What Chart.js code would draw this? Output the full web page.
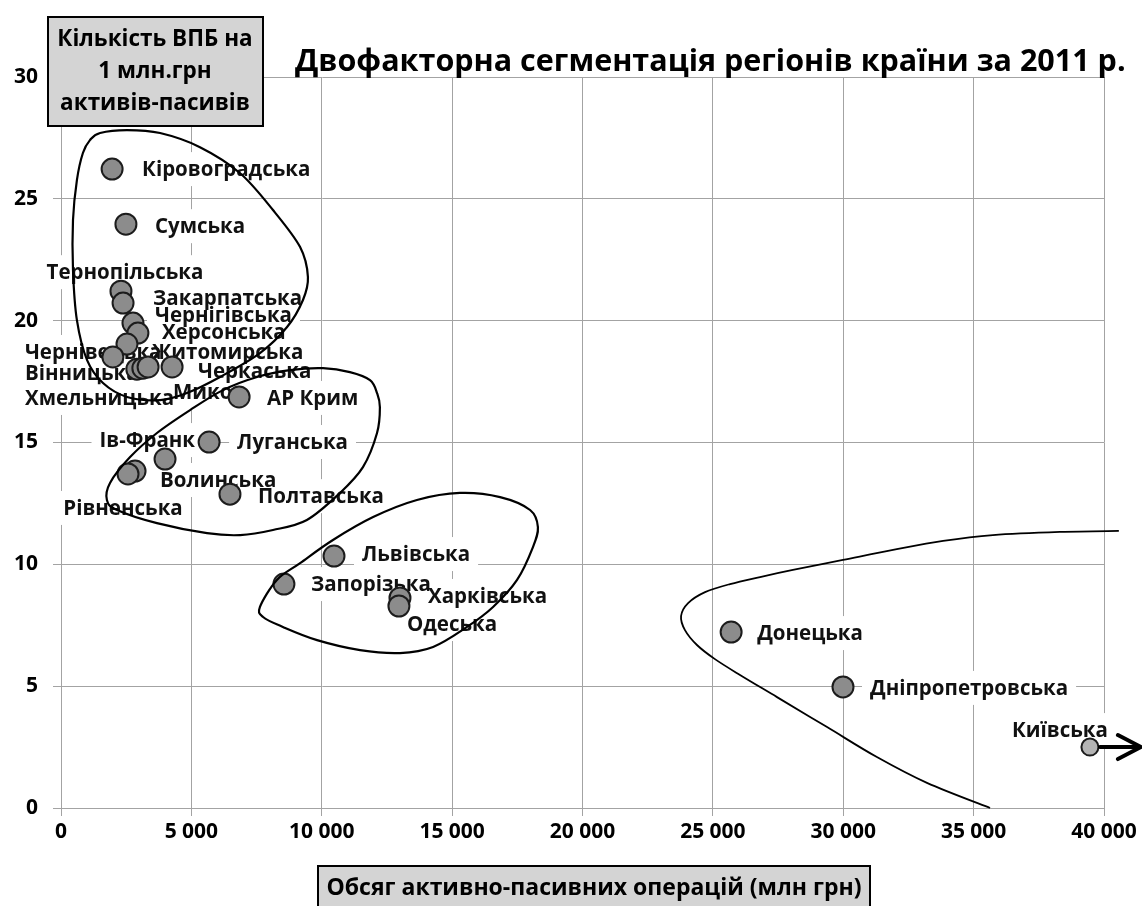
<!DOCTYPE html>
<html lang="uk">
<head>
<meta charset="utf-8">
<title>Двофакторна сегментація регіонів країни за 2011 р.</title>
<script src="https://cdn.jsdelivr.net/npm/chart.js@4.4.1/dist/chart.umd.min.js"></script>
<style>
    html, body { margin: 0; padding: 0; background: #fff; }
    #wrap { width: 1142px; height: 906px; }
</style>
</head>
<body>
<div id="wrap"><canvas id="grafik" width="1142" height="906"></canvas></div>
<script>
// Регіони (підписи як на діаграмі)
const regiony = [
    'Кіровоградська', 'Сумська', 'Тернопільська', 'Закарпатська', 'Чернігівська',
    'Херсонська', 'Житомирська', 'Чернівецька', 'Вінницька', 'Микол',
    'Хмельницька', 'Черкаська', 'АР Крим', 'Луганська', 'Ів-Франк',
    'Волинська', 'Рівненська', 'Полтавська', 'Львівська', 'Запорізька',
    'Харківська', 'Одеська', 'Донецька', 'Дніпропетровська', 'Київська'
];

// Обсяг активно-пасивних операцій, млн грн
const obsyag = [
    1960, 2490, 2300, 2380, 2760,
    2950, 2530, 1990, 2910, 3140,
    3340, 4260, 6830, 5680, 3990,
    2840, 2570, 6480, 10470, 8550,
    13000, 12960, 25700, 29990, 39460
];

// Кількість ВПБ на 1 млн грн активів-пасивів
const kilkistVpb = [
    26.22, 23.96, 21.21, 20.72, 19.90,
    19.49, 19.04, 18.51, 18.01, 18.05,
    18.10, 18.10, 16.87, 15.02, 14.32,
    13.83, 13.71, 12.88, 10.34, 9.19,
    8.62, 8.29, 7.22, 4.97, 2.50
];

const xTicks = [0, 5000, 10000, 15000, 20000, 25000, 30000, 35000, 40000];
const xTickLabels = ['0', '5 000', '10 000', '15 000', '20 000', '25 000', '30 000', '35 000', '40 000'];
const yTicks = [0, 5, 10, 15, 20, 25, 30];

// Контури сегментів (у значеннях осей)
const kontur1 = [[1500, 27.70], [2530, 27.82], [3800, 27.70], [5330, 27.12], [6860, 26.06], [8130, 24.54],
    [9170, 23.02], [9470, 21.79], [9280, 20.85], [8670, 19.74], [7630, 18.67], [6100, 17.69],
    [4830, 17.03], [3800, 16.74], [2530, 16.87], [1610, 17.44], [1000, 18.38], [610, 20.02],
    [460, 22.08], [460, 24.13], [610, 25.77], [840, 26.88], [1110, 27.41]];
const kontur2 = [[12120, 17.03], [11850, 17.56], [11080, 17.89], [10050, 18.05], [8780, 17.97], [7520, 17.69],
    [6210, 17.15], [4950, 16.33], [3680, 15.39], [2650, 14.40], [1880, 13.34], [1760, 12.64],
    [2150, 12.23], [3680, 11.69], [5600, 11.28], [6870, 11.20], [8130, 11.41], [9430, 11.82],
    [10700, 12.93], [11580, 13.99], [12120, 15.39], [12230, 16.45]];
const kontur3 = [[7630, 8.25], [8280, 9.36], [9170, 10.05], [10430, 11.00], [11970, 11.94], [13650, 12.64],
    [15300, 12.93], [16840, 12.76], [17990, 12.23], [18290, 11.53], [18100, 10.71], [17490, 9.36],
    [16570, 8.25], [15570, 7.43], [14270, 6.61], [13000, 6.36], [11470, 6.48], [9820, 6.89],
    [8510, 7.43], [7750, 7.84]];
const kontur4 = [[40570, 11.37], [38310, 11.33], [35740, 11.20], [33830, 10.96], [31910, 10.59], [29990, 10.18],
    [28070, 9.77], [26810, 9.48], [25660, 9.19], [24700, 8.86], [24050, 8.41], [23780, 7.88],
    [23930, 7.30], [24390, 6.69], [25080, 6.11], [26040, 5.46], [27460, 4.55], [29380, 3.32],
    [31290, 2.09], [33210, 1.03], [35630, 0]];

// Розміщення підписів відносно точки (px) - тільки для верстки
const pidpysDx = [30, 29, 4, 30, 22, 24, 25, -88, -112, 30, -123, 26, 28, 28, 30, 25, -5, 28, 28, 27, 28, 8, 26, 27, 18];
const pidpysDy = [0, 2, -19, -5, -8, -1, 8, -5, 4, 24, 31, 4, 1, 0, -19, 9, 34, 2, -2, 0, -2, 18, 1, 1, -17];
const pidpysAlign = ['left', 'left', 'center', 'left', 'left', 'left', 'left', 'left', 'left', 'left',
    'left', 'left', 'left', 'left', 'right', 'left', 'center', 'left', 'left', 'left',
    'left', 'left', 'left', 'left', 'right'];

const SHRYFT = "'Open Sans', 'Noto Sans', sans-serif";
const kyivIdx = regiony.indexOf('Київська');

function smoothPath(ctx, pts, closed) {
    const n = pts.length;
    ctx.beginPath();
    ctx.moveTo(pts[0].x, pts[0].y);
    const last = closed ? n : n - 1;
    for (let i = 0; i < last; i++) {
        const p0 = pts[closed ? (i - 1 + n) % n : Math.max(i - 1, 0)];
        const p1 = pts[i];
        const p2 = pts[(i + 1) % n];
        const p3 = pts[closed ? (i + 2) % n : Math.min(i + 2, n - 1)];
        ctx.bezierCurveTo(
            p1.x + (p2.x - p0.x) / 6, p1.y + (p2.y - p0.y) / 6,
            p2.x - (p3.x - p1.x) / 6, p2.y - (p3.y - p1.y) / 6,
            p2.x, p2.y
        );
    }
    if (closed) ctx.closePath();
    ctx.stroke();
}

// Підписи точок (під точками)
const pidpysyPlugin = {
    id: 'pidpysy',
    beforeDatasetsDraw(chart) {
        const ctx = chart.ctx;
        const sx = chart.scales.x, sy = chart.scales.y;
        ctx.save();
        ctx.font = 'bold 20.5px ' + SHRYFT;
        ctx.textBaseline = 'middle';
        const boxes = regiony.map((name, i) => {
            const px = sx.getPixelForValue(obsyag[i]) + pidpysDx[i];
            const py = sy.getPixelForValue(kilkistVpb[i]) + pidpysDy[i];
            const w = ctx.measureText(name).width;
            let left = px;
            if (pidpysAlign[i] === 'center') left = px - w / 2;
            if (pidpysAlign[i] === 'right') left = px - w;
            return { name, left, py, w };
        });
        ctx.fillStyle = '#ffffff';
        boxes.forEach(b => ctx.fillRect(b.left - 8, b.py - 17, b.w + 16, 34));
        ctx.fillStyle = '#111111';
        ctx.textAlign = 'left';
        boxes.forEach(b => ctx.fillText(b.name, b.left, b.py + 1));
        ctx.restore();
    }
};

// Контури сегментів, стрілка, заголовки
const oformlennyaPlugin = {
    id: 'oformlennya',
    afterDatasetsDraw(chart) {
        const ctx = chart.ctx;
        const sx = chart.scales.x, sy = chart.scales.y;
        const toPx = arr => arr.map(p => ({ x: sx.getPixelForValue(p[0]), y: sy.getPixelForValue(p[1]) }));
        ctx.save();
        ctx.strokeStyle = '#000';
        ctx.lineWidth = 2.2;
        smoothPath(ctx, toPx(kontur1), true);
        smoothPath(ctx, toPx(kontur2), true);
        smoothPath(ctx, toPx(kontur3), true);
        ctx.lineWidth = 1.8;
        smoothPath(ctx, toPx(kontur4), false);

        // стрілка від Київської
        const kx = sx.getPixelForValue(obsyag[kyivIdx]);
        const ky = sy.getPixelForValue(kilkistVpb[kyivIdx]);
        ctx.lineWidth = 4;
        ctx.lineCap = 'round';
        ctx.lineJoin = 'round';
        ctx.beginPath();
        ctx.moveTo(kx + 10, ky);
        ctx.lineTo(kx + 50, ky);
        ctx.moveTo(kx + 28, ky - 12);
        ctx.lineTo(kx + 51, ky);
        ctx.lineTo(kx + 28, ky + 12);
        ctx.stroke();
        ctx.restore();
    },
    afterDraw(chart) {
        const ctx = chart.ctx;
        ctx.save();
        ctx.fillStyle = '#000';
        ctx.textBaseline = 'middle';
        ctx.font = 'bold 30.5px ' + SHRYFT;
        ctx.textAlign = 'left';
        ctx.fillText('Двофакторна сегментація регіонів країни за 2011 р.', 295, 62);

        // назва осі Y
        ctx.fillStyle = '#d4d4d4';
        ctx.fillRect(48, 17, 215, 109);
        ctx.strokeStyle = '#000';
        ctx.lineWidth = 2;
        ctx.strokeRect(48, 17, 215, 109);
        ctx.fillStyle = '#000';
        ctx.textAlign = 'center';
        ctx.font = 'bold 22.5px ' + SHRYFT;
        ctx.fillText('Кількість ВПБ на', 155, 40);
        ctx.fillText('1 млн.грн', 155, 72);
        ctx.fillText('активів-пасивів', 155, 104);

        // назва осі X
        ctx.fillStyle = '#d4d4d4';
        ctx.fillRect(318, 866, 552, 50);
        ctx.strokeRect(318, 866, 552, 50);
        ctx.fillStyle = '#000';
        ctx.font = 'bold 23px ' + SHRYFT;
        ctx.fillText('Обсяг активно-пасивних операцій (млн грн)', 594, 888);
        ctx.restore();
    }
};

const gridStyle = {
    color: '#a3a3a3',
    lineWidth: 1,
    tickLength: 8
};

new Chart(document.getElementById('grafik'), {
    type: 'scatter',
    data: {
        datasets: [{
            label: 'Регіони',
            data: regiony.map((name, i) => ({ x: obsyag[i], y: kilkistVpb[i], name })),
            pointRadius: ctx => ctx.dataIndex === kyivIdx ? 8.5 : 10.5,
            pointBackgroundColor: ctx => ctx.dataIndex === kyivIdx ? '#b4b4b4' : '#8c8c8c',
            pointBorderColor: '#1c1c1c',
            pointBorderWidth: 2,
            pointHoverRadius: 10.5
        }]
    },
    options: {
        responsive: false,
        animation: false,
        layout: { padding: { top: 77, right: 38, left: 0, bottom: 0 } },
        plugins: {
            legend: { display: false },
            title: { display: false },
            tooltip: { enabled: false }
        },
        scales: {
            x: {
                type: 'linear',
                min: xTicks[0],
                max: xTicks[xTicks.length - 1],
                afterBuildTicks: scale => { scale.ticks = xTicks.map(v => ({ value: v })); },
                afterFit: scale => { scale.height = 98; },
                grid: gridStyle,
                border: { color: '#a3a3a3' },
                ticks: {
                    color: '#000',
                    padding: 3,
                    maxRotation: 0,
                    font: { family: SHRYFT, size: 21, weight: 'bold' },
                    callback: (v, i) => xTickLabels[i]
                }
            },
            y: {
                type: 'linear',
                min: yTicks[0],
                max: yTicks[yTicks.length - 1],
                afterBuildTicks: scale => { scale.ticks = yTicks.map(v => ({ value: v })); },
                afterFit: scale => { scale.width = 61; },
                grid: gridStyle,
                border: { color: '#a3a3a3' },
                ticks: {
                    color: '#000',
                    padding: 15,
                    font: { family: SHRYFT, size: 21, weight: 'bold' }
                }
            }
        }
    },
    plugins: [pidpysyPlugin, oformlennyaPlugin]
});
</script>
</body>
</html>
